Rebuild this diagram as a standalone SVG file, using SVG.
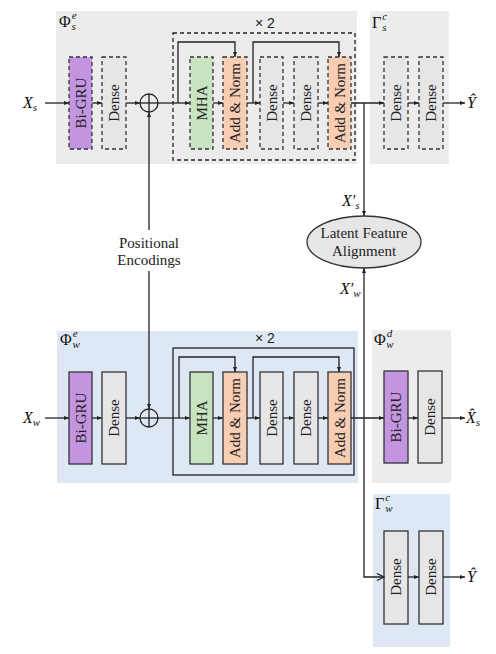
<svg xmlns="http://www.w3.org/2000/svg" width="496" height="654" viewBox="0 0 496 654">
<defs>
<marker id="ah" viewBox="0 0 10 10" refX="10" refY="5" markerWidth="5" markerHeight="5" orient="auto" markerUnits="userSpaceOnUse">
<path d="M0,1 L10,5 L0,9 Z" fill="#222"/>
</marker>
<marker id="ao" viewBox="0 0 10 10" refX="9" refY="5" markerWidth="9" markerHeight="9" orient="auto" markerUnits="userSpaceOnUse">
<path d="M1,1 L9,5 L1,9" fill="none" stroke="#222" stroke-width="1.3"/>
</marker>
<style>
.pg{fill:#ececec}
.pb{fill:#dde8f4}
.bx{stroke:#333;stroke-width:1.3}
.d{stroke-dasharray:4 3}
.gru{fill:#c394e0}
.den{fill:#e6e6e6}
.mha{fill:#c8e3bf}
.an{fill:#f7cdb3}
.lbl{font-family:"Liberation Serif","Times New Roman",serif;font-size:15px;fill:#222}
.m{font-family:"Liberation Serif","Times New Roman",serif;font-style:italic;font-size:16px;fill:#111}
.mu{font-family:"Liberation Serif","Times New Roman",serif;font-size:16px;fill:#111}
.sm{font-size:11px}
.x2{font-family:"Liberation Sans",Arial,sans-serif;font-size:14px;fill:#222}
.c{fill:none;stroke:#222;stroke-width:1.3}
</style>
</defs>

<g id="panels">
<rect class="pg" x="56" y="11" width="301" height="153"/>
<rect class="pg" x="370" y="11" width="79" height="153"/>
<rect class="pb" x="57" y="331" width="301" height="152"/>
<rect class="pg" x="372" y="330" width="79" height="153"/>
<rect class="pb" x="373" y="494" width="77" height="153"/>
</g>

<g id="panel-labels">
<text class="mu" x="59" y="27">Φ<tspan class="m sm" dx="1" dy="-8">e</tspan><tspan class="m sm" dx="-5" dy="11">s</tspan></text>
<text class="mu" x="372" y="28">Γ<tspan class="m sm" dx="1" dy="-8">c</tspan><tspan class="m sm" dx="-5" dy="11">s</tspan></text>
<text class="mu" x="60" y="345">Φ<tspan class="m sm" dx="1" dy="-8">e</tspan><tspan class="m sm" dx="-5" dy="11">w</tspan></text>
<text class="mu" x="374" y="345">Φ<tspan class="m sm" dx="1" dy="-8">d</tspan><tspan class="m sm" dx="-6" dy="11">w</tspan></text>
<text class="mu" x="375" y="509">Γ<tspan class="m sm" dx="1" dy="-8">c</tspan><tspan class="m sm" dx="-5" dy="11">w</tspan></text>
<text class="x2" x="255" y="28">× 2</text>
<text class="x2" x="255" y="343">× 2</text>
</g>

<g id="blocks">
<rect class="c d" x="173" y="33" width="182" height="127"/>
<rect class="c" x="173" y="348" width="181" height="127"/>
</g>

<g id="top-encoder">
<rect class="bx d gru" x="69" y="57" width="23" height="92"/>
<text class="lbl" transform="translate(85.5,103) rotate(-90)" text-anchor="middle">Bi-GRU</text>
<rect class="bx d den" x="102" y="57" width="24" height="92"/>
<text class="lbl" transform="translate(119,103) rotate(-90)" text-anchor="middle">Dense</text>
<rect class="bx d mha" x="190" y="57" width="23" height="92"/>
<text class="lbl" transform="translate(206.5,103) rotate(-90)" text-anchor="middle">MHA</text>
<rect class="bx d an" x="223" y="57" width="24" height="92"/>
<text class="lbl" transform="translate(240,103) rotate(-90)" text-anchor="middle">Add &amp; Norm</text>
<rect class="bx d den" x="260" y="57" width="23" height="92"/>
<text class="lbl" transform="translate(276.5,103) rotate(-90)" text-anchor="middle">Dense</text>
<rect class="bx d den" x="294" y="57" width="24" height="92"/>
<text class="lbl" transform="translate(311,103) rotate(-90)" text-anchor="middle">Dense</text>
<rect class="bx d an" x="328" y="57" width="23" height="92"/>
<text class="lbl" transform="translate(344.5,103) rotate(-90)" text-anchor="middle">Add &amp; Norm</text>
</g>

<g id="top-classifier">
<rect class="bx d den" x="384" y="57" width="24" height="92"/>
<text class="lbl" transform="translate(401,103) rotate(-90)" text-anchor="middle">Dense</text>
<rect class="bx d den" x="419" y="57" width="24" height="92"/>
<text class="lbl" transform="translate(436,103) rotate(-90)" text-anchor="middle">Dense</text>
</g>

<g id="bottom-encoder">
<rect class="bx gru" x="69" y="372" width="23" height="92"/>
<text class="lbl" transform="translate(85.5,418) rotate(-90)" text-anchor="middle">Bi-GRU</text>
<rect class="bx den" x="102" y="372" width="24" height="92"/>
<text class="lbl" transform="translate(119,418) rotate(-90)" text-anchor="middle">Dense</text>
<rect class="bx mha" x="190" y="372" width="23" height="92"/>
<text class="lbl" transform="translate(206.5,418) rotate(-90)" text-anchor="middle">MHA</text>
<rect class="bx an" x="223" y="372" width="24" height="92"/>
<text class="lbl" transform="translate(240,418) rotate(-90)" text-anchor="middle">Add &amp; Norm</text>
<rect class="bx den" x="260" y="372" width="23" height="92"/>
<text class="lbl" transform="translate(276.5,418) rotate(-90)" text-anchor="middle">Dense</text>
<rect class="bx den" x="294" y="372" width="24" height="92"/>
<text class="lbl" transform="translate(311,418) rotate(-90)" text-anchor="middle">Dense</text>
<rect class="bx an" x="328" y="372" width="23" height="92"/>
<text class="lbl" transform="translate(344.5,418) rotate(-90)" text-anchor="middle">Add &amp; Norm</text>
</g>

<g id="bottom-decoder">
<rect class="bx gru" x="384" y="371" width="24" height="92"/>
<text class="lbl" transform="translate(401,417) rotate(-90)" text-anchor="middle">Bi-GRU</text>
<rect class="bx den" x="418" y="371" width="24" height="92"/>
<text class="lbl" transform="translate(435,417) rotate(-90)" text-anchor="middle">Dense</text>
</g>

<g id="bottom-classifier">
<rect class="bx den" x="384" y="531" width="24" height="93"/>
<text class="lbl" transform="translate(401,577) rotate(-90)" text-anchor="middle">Dense</text>
<rect class="bx den" x="419" y="531" width="24" height="93"/>
<text class="lbl" transform="translate(436,577) rotate(-90)" text-anchor="middle">Dense</text>
</g>

<g id="adders">
<circle class="c" cx="149" cy="103" r="9"/>
<line class="c" x1="140" y1="103" x2="158" y2="103"/>
<line class="c" x1="149" y1="94" x2="149" y2="112"/>
<circle class="c" cx="149" cy="418" r="9"/>
<line class="c" x1="140" y1="418" x2="158" y2="418"/>
<line class="c" x1="149" y1="409" x2="149" y2="427"/>
</g>

<g id="alignment">
<ellipse cx="364" cy="242" rx="57" ry="26" fill="#e6e6e6" stroke="#333" stroke-width="1.3"/>
<text class="lbl" x="364" y="238" text-anchor="middle">Latent Feature</text>
<text class="lbl" x="364" y="256" text-anchor="middle">Alignment</text>
</g>

<g id="pe-label">
<text class="lbl" x="149" y="248" text-anchor="middle">Positional</text>
<text class="lbl" x="149" y="265" text-anchor="middle">Encodings</text>
</g>

<g id="io-labels">
<text class="m" x="23" y="108">X<tspan class="sm" dy="3">s</tspan></text>
<text class="m" x="23" y="423">X<tspan class="sm" dy="3">w</tspan></text>
<text class="m" x="467" y="108">Ŷ</text>
<text class="m" x="467" y="582">Ŷ</text>
<text class="m" x="466" y="423">X̂<tspan class="sm" dy="3">s</tspan></text>
<text class="m" x="342" y="206">X′<tspan class="sm" dy="3">s</tspan></text>
<text class="m" x="340" y="294">X′<tspan class="sm" dy="3">w</tspan></text>
</g>

<g id="connectors" class="c">
<line x1="45" y1="103" x2="69" y2="103" marker-end="url(#ah)"/>
<line x1="92" y1="103" x2="102" y2="103" marker-end="url(#ah)"/>
<line x1="126" y1="103" x2="140" y2="103" marker-end="url(#ah)"/>
<line x1="158" y1="103" x2="190" y2="103" marker-end="url(#ah)"/>
<line x1="213" y1="103" x2="223" y2="103" marker-end="url(#ah)"/>
<line x1="247" y1="103" x2="260" y2="103" marker-end="url(#ah)"/>
<line x1="283" y1="103" x2="294" y2="103" marker-end="url(#ah)"/>
<line x1="318" y1="103" x2="328" y2="103" marker-end="url(#ah)"/>
<line x1="351" y1="103" x2="384" y2="103" marker-end="url(#ah)"/>
<line x1="408" y1="103" x2="419" y2="103" marker-end="url(#ah)"/>
<line x1="443" y1="103" x2="465" y2="103" marker-end="url(#ah)"/>
<polyline points="178,103 178,42 235,42 235,57" marker-end="url(#ah)"/>
<polyline points="253,103 253,42 339,42 339,57" marker-end="url(#ah)"/>
<line x1="364" y1="103" x2="364" y2="216" marker-end="url(#ah)"/>
<line x1="149" y1="230" x2="149" y2="112" marker-end="url(#ah)"/>
<line x1="149" y1="271" x2="149" y2="409" marker-end="url(#ah)"/>

<line x1="45" y1="418" x2="69" y2="418" marker-end="url(#ah)"/>
<line x1="92" y1="418" x2="102" y2="418" marker-end="url(#ah)"/>
<line x1="126" y1="418" x2="140" y2="418" marker-end="url(#ah)"/>
<line x1="158" y1="418" x2="190" y2="418" marker-end="url(#ah)"/>
<line x1="213" y1="418" x2="223" y2="418" marker-end="url(#ah)"/>
<line x1="247" y1="418" x2="260" y2="418" marker-end="url(#ah)"/>
<line x1="283" y1="418" x2="294" y2="418" marker-end="url(#ah)"/>
<line x1="318" y1="418" x2="328" y2="418" marker-end="url(#ah)"/>
<line x1="351" y1="418" x2="384" y2="418" marker-end="url(#ah)"/>
<line x1="408" y1="418" x2="418" y2="418" marker-end="url(#ah)"/>
<line x1="442" y1="418" x2="465" y2="418" marker-end="url(#ah)"/>
<polyline points="179,418 179,357 235,357 235,372" marker-end="url(#ah)"/>
<polyline points="253,418 253,357 339,357 339,372" marker-end="url(#ah)"/>
<line x1="364" y1="418" x2="364" y2="268" marker-end="url(#ah)"/>
<polyline points="364,418 364,577 384,577" marker-end="url(#ao)"/>
<line x1="408" y1="577" x2="419" y2="577" marker-end="url(#ah)"/>
<line x1="443" y1="577" x2="465" y2="577" marker-end="url(#ah)"/>
</g>
</svg>
